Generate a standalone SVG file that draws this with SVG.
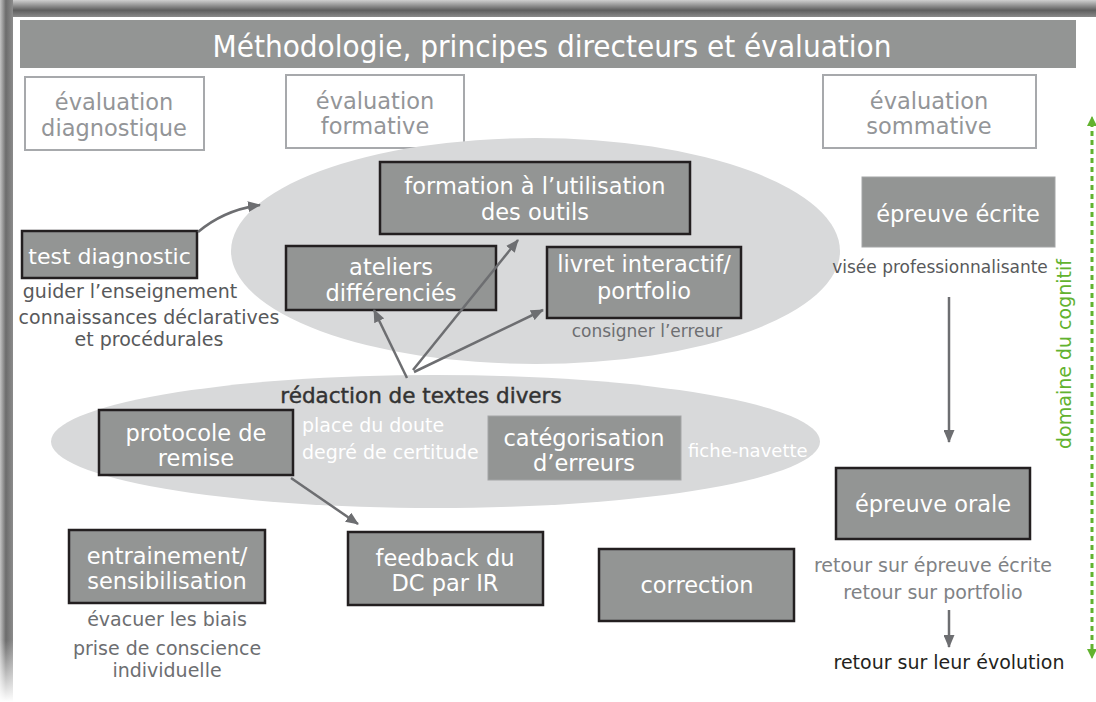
<svg xmlns="http://www.w3.org/2000/svg" width="1096" height="702" viewBox="0 0 1096 702">
<defs>
<linearGradient id="gTop" x1="0" y1="0" x2="0" y2="1">
<stop offset="0" stop-color="#cfcfcf"/>
<stop offset="0.6" stop-color="#5e5e5e"/>
<stop offset="1" stop-color="#8a8a8a"/>
</linearGradient>
<linearGradient id="gLeft" x1="0" y1="0" x2="1" y2="0">
<stop offset="0" stop-color="#c4c4c4"/>
<stop offset="0.45" stop-color="#6c6c6c"/>
<stop offset="1" stop-color="#8c8c8c"/>
</linearGradient>
<linearGradient id="gLeftFade" x1="0" y1="0" x2="0" y2="1">
<stop offset="0" stop-color="#fff" stop-opacity="0"/>
<stop offset="1" stop-color="#fff" stop-opacity="1"/>
</linearGradient>
<marker id="ah" viewBox="0 0 13 11" refX="12" refY="5.5" markerWidth="13" markerHeight="11" markerUnits="userSpaceOnUse" orient="auto">
<path d="M0,0 L13,5.5 L0,11 Z" fill="#6d6e71"/>
</marker>
<marker id="gh" viewBox="0 0 10 10" refX="9" refY="5" markerWidth="10" markerHeight="10" markerUnits="userSpaceOnUse" orient="auto">
<path d="M0,0 L10,5 L0,10 Z" fill="#62b22f"/>
</marker>
<style>
text{font-family:"DejaVu Sans","Liberation Sans",sans-serif}
.hdr rect{fill:#fff;stroke:#a7a9ac;stroke-width:2}
.hdr text{fill:#939598;font-size:22.5px;text-anchor:middle}
.box rect{fill:#939594;stroke:#231f20;stroke-width:2.5}
.box.plain rect{stroke:#a3a5a6;stroke-width:1}
.box text{fill:#fff;font-size:22.5px;text-anchor:middle}
.lbl{fill:#58595b;font-size:19px;text-anchor:middle}
.wl{fill:#fff;font-size:19px}
.conn path{fill:none;stroke:#6d6e71;stroke-width:2.5;marker-end:url(#ah)}
</style>
</defs>
<rect width="1096" height="702" fill="#fff"/>
<rect x="0" y="0" width="1096" height="17" fill="url(#gTop)"/>
<rect x="0" y="0" width="13" height="702" fill="url(#gLeft)"/>
<rect x="0" y="640" width="13" height="62" fill="url(#gLeftFade)"/>

<g id="title">
<rect x="20" y="20" width="1056" height="48" fill="#939594"/>
<text x="552" y="57" fill="#fff" font-size="31" text-anchor="middle" textLength="679" lengthAdjust="spacingAndGlyphs" style="font-family:'DejaVu Sans Condensed','DejaVu Sans',sans-serif">Méthodologie, principes directeurs et évaluation</text>
</g>

<g id="eval-diag" class="hdr"><rect x="25" y="77" width="179" height="73"/><text x="114" y="110">évaluation</text><text x="114" y="136">diagnostique</text></g>
<g id="eval-form" class="hdr"><rect x="286" y="75" width="178" height="73"/><text x="375" y="109">évaluation</text><text x="375" y="134">formative</text></g>
<g id="eval-somm" class="hdr"><rect x="823" y="75" width="213" height="73"/><text x="929" y="109">évaluation</text><text x="929" y="134">sommative</text></g>

<g id="zone-formative"><ellipse cx="535.5" cy="251" rx="304.5" ry="113" fill="#d8d9da"/></g>
<g id="zone-redaction"><ellipse cx="435.5" cy="441.5" rx="384.5" ry="66.5" fill="#d8d9da"/></g>

<g id="test-diag" class="box"><rect x="22" y="231" width="175" height="47"/><text x="109.5" y="264" style="font-size:22px">test diagnostic</text></g>
<g id="test-diag-notes">
<text class="lbl" x="130" y="298">guider l’enseignement</text>
<text class="lbl" x="149" y="324">connaissances déclaratives</text>
<text class="lbl" x="149" y="346">et procédurales</text>
</g>

<g id="formation" class="box"><rect x="380" y="162" width="310" height="72"/><text x="535" y="194">formation à l’utilisation</text><text x="535" y="220">des outils</text></g>
<g id="ateliers" class="box"><rect x="286" y="246" width="210" height="64"/><text x="391" y="275">ateliers</text><text x="391" y="301">différenciés</text></g>
<g id="livret" class="box"><rect x="547" y="247" width="194" height="71"/><text x="644" y="272">livret interactif/</text><text x="644" y="299">portfolio</text></g>
<text class="lbl" x="647" y="337" style="font-size:17px;fill:#6d6e71">consigner l’erreur</text>

<g id="epreuve-ecrite" class="box plain"><rect x="862" y="177" width="193" height="70"/><text x="958" y="222">épreuve écrite</text></g>
<text class="lbl" x="940" y="273" style="font-size:17px">visée professionnalisante</text>

<g id="redaction"><text x="421" y="403" fill="#333" stroke="#333" stroke-width="0.45" font-size="21.5" text-anchor="middle">rédaction de textes divers</text></g>
<g id="protocole" class="box"><rect x="99" y="410" width="194" height="65"/><text x="196" y="441">protocole de</text><text x="196" y="466">remise</text></g>
<text class="wl" x="302" y="432">place du doute</text>
<text class="wl" x="302" y="459">degré de certitude</text>
<g id="categorisation" class="box plain"><rect x="488" y="416" width="193" height="64"/><text x="584" y="446">catégorisation</text><text x="584" y="471">d’erreurs</text></g>
<text class="wl" x="688" y="457" style="font-size:18px">fiche-navette</text>

<g id="entrainement" class="box"><rect x="69" y="530" width="196" height="73"/><text x="167" y="564">entrainement/</text><text x="167" y="589">sensibilisation</text></g>
<g id="entrainement-notes">
<text class="lbl" x="167" y="626" style="fill:#6d6e71">évacuer les biais</text>
<text class="lbl" x="167" y="655" style="fill:#6d6e71">prise de conscience</text>
<text class="lbl" x="167" y="677" style="fill:#6d6e71">individuelle</text>
</g>
<g id="feedback" class="box"><rect x="348" y="532" width="195" height="73"/><text x="445" y="566">feedback du</text><text x="445" y="591">DC par IR</text></g>
<g id="correction" class="box"><rect x="599" y="549" width="195" height="72"/><text x="697" y="593">correction</text></g>

<g id="epreuve-orale" class="box"><rect x="836" y="468" width="194" height="71"/><text x="933" y="512">épreuve orale</text></g>
<g id="orale-notes">
<text class="lbl" x="933" y="572" style="fill:#808285">retour sur épreuve écrite</text>
<text class="lbl" x="933" y="599" style="fill:#808285">retour sur portfolio</text>
<text class="lbl" x="949" y="669" style="fill:#231f20">retour sur leur évolution</text>
</g>

<g id="cognitif">
<line x1="1092" y1="122" x2="1092" y2="652" stroke="#62b22f" stroke-width="3" stroke-dasharray="5 4"/>
<path d="M1092,124 L1092,117" stroke="#62b22f" stroke-width="1" marker-end="url(#gh)"/>
<path d="M1092,650 L1092,658" stroke="#62b22f" stroke-width="1" marker-end="url(#gh)"/>
<text transform="translate(1071,354) rotate(-90)" fill="#62b22f" font-size="19" text-anchor="middle">domaine du cognitif</text>
</g>

<g id="connectors" class="conn">
<path d="M198,232 Q224,210 260,205"/>
<path d="M407,378 L374,310"/>
<path d="M413,370 L518,240"/>
<path d="M414,372 L543,310"/>
<path d="M291,478 L358,524"/>
<path d="M949,297 L949,442"/>
<path d="M949,610 L949,647"/>
</g>
</svg>
